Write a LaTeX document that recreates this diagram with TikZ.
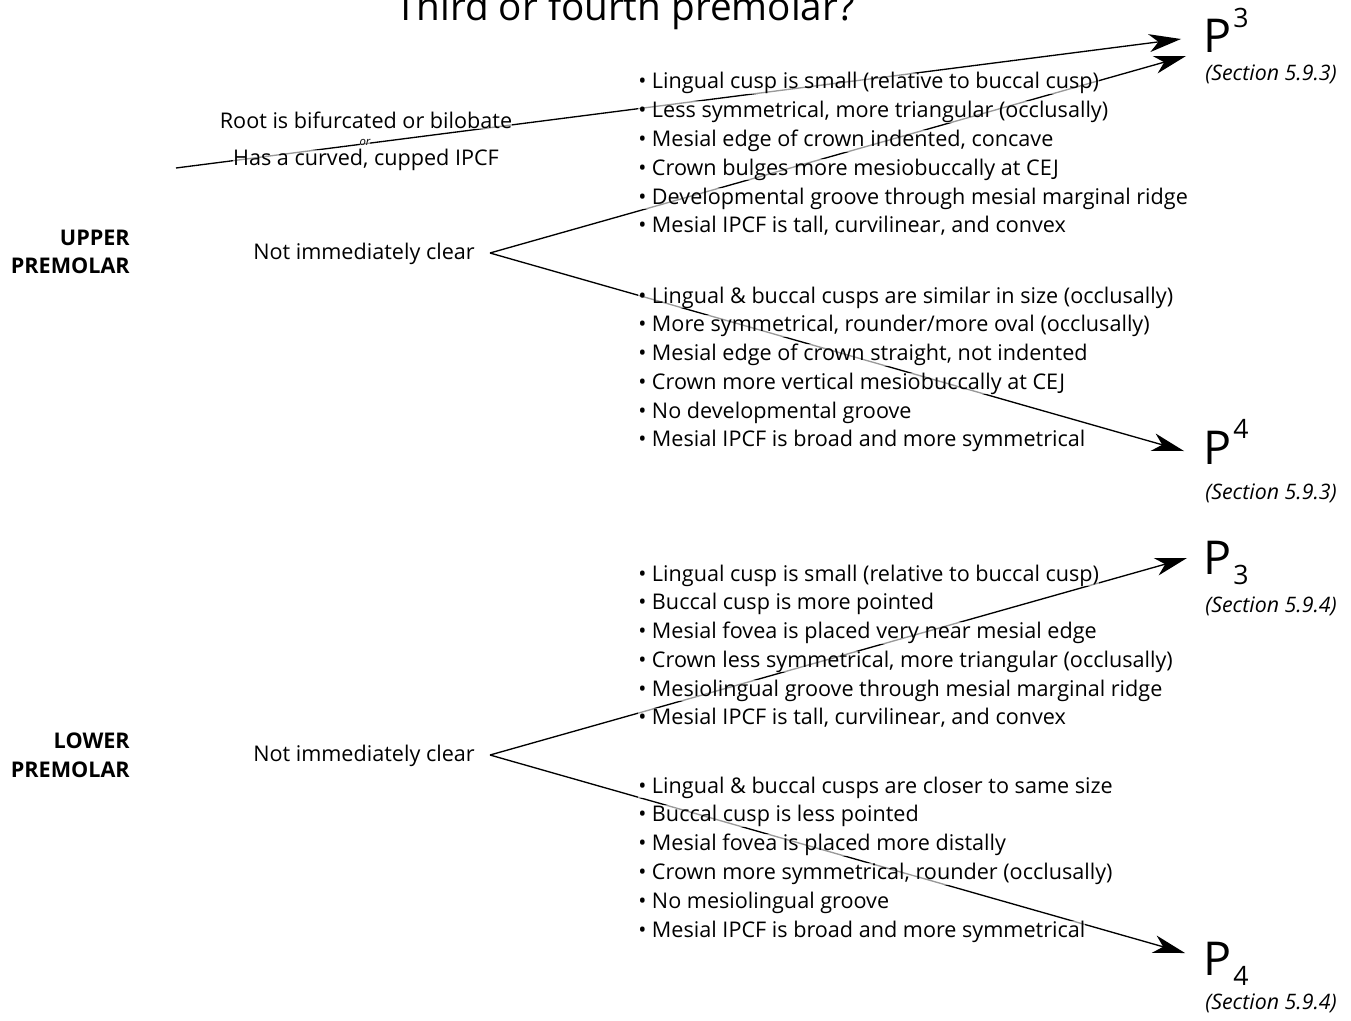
\documentclass[tikz,border=0pt]{standalone}
\usepackage{fontspec}
\setmainfont{Open Sans}
\usetikzlibrary{arrows.meta}

\begin{document}
\begin{tikzpicture}[
    x=0.75pt, y=-0.75pt,
    veil/.style={fill=white, fill opacity=0.6, text opacity=1},
    item/.style={veil, anchor=base west, inner sep=0pt, font=\fontsize{16.2}{18}\selectfont},
    lbl/.style={veil, inner sep=0pt, font=\fontsize{16.2}{18}\selectfont},
    jaw/.style={anchor=base east, inner sep=0pt, font=\fontsize{16.2}{18}\selectfont\bfseries},
    tooth/.style={anchor=base west, inner sep=0pt, font=\fontsize{35}{40}\selectfont},
    sect/.style={anchor=base west, inner sep=0pt, font=\fontsize{16}{18}\selectfont\itshape},
    arrow/.style={line width=1pt, -{Stealth[length=24pt, width=13.5pt, inset=7pt]}}
  ]
    \useasboundingbox (0,0) rectangle (1351,1020);
    % connectors first, text goes over them
    \coordinate (rootstart) at (176,168);
    \coordinate (fork1) at (490,253);
    \coordinate (fork2) at (490,755);
    \coordinate (tip3a) at (1181,39);
    \coordinate (tip3b) at (1186,56);
    \coordinate (tip4) at (1184,451);
    \coordinate (tip3l) at (1187,558);
    \coordinate (tip4l) at (1185,953);
    \draw[arrow] (rootstart) -- (tip3a);
    \draw[arrow] (fork1) -- (tip3b);
    \draw[arrow] (fork1) -- (tip4);
    \draw[arrow] (fork2) -- (tip3l);
    \draw[arrow] (fork2) -- (tip4l);

    \node[anchor=base, inner sep=0pt, font=\fontsize{29}{32}\selectfont] (title) at (625,21) {Third or fourth premolar?};

    \node[jaw] (upper) at (130,245) {UPPER};
    \node[jaw] (upperb) at (130,273) {PREMOLAR};
    \node[jaw] (lower) at (130,748) {LOWER};
    \node[jaw] (lowerb) at (130,777) {PREMOLAR};

    \node[lbl, anchor=base] (root) at (366,129) {Root is bifurcated or bilobate};
    \node[lbl, anchor=base, font=\fontsize{8.5}{9}\selectfont\itshape] (or) at (365,146) {or};
    \node[lbl, anchor=base] (cupped) at (366,166) {Has a curved, cupped IPCF};
    \node[lbl, anchor=base east] (unclear1) at (475,259) {Not immediately clear};
    \node[lbl, anchor=base east] (unclear2) at (475,761) {Not immediately clear};

    \foreach \t [count=\i from 0] in {{Lingual cusp is small (relative to buccal cusp)},
        {Less symmetrical, more triangular (occlusally)},
        {Mesial edge of crown indented, concave},
        {Crown bulges more mesiobuccally at CEJ},
        {Developmental groove through mesial marginal ridge},
        {Mesial IPCF is tall, curvilinear, and convex}}
      \node[item] (ua\i) at (638,89+\i*28.75) {• \t};
    \foreach \t [count=\i from 0] in {{Lingual \& buccal cusps are similar in size (occlusally)},
        {More symmetrical, rounder/more oval (occlusally)},
        {Mesial edge of crown straight, not indented},
        {Crown more vertical mesiobuccally at CEJ},
        {No developmental groove},
        {Mesial IPCF is broad and more symmetrical}}
      \node[item] (ub\i) at (638,303+\i*28.75) {• \t};
    \foreach \t [count=\i from 0] in {{Lingual cusp is small (relative to buccal cusp)},
        {Buccal cusp is more pointed},
        {Mesial fovea is placed very near mesial edge},
        {Crown less symmetrical, more triangular (occlusally)},
        {Mesiolingual groove through mesial marginal ridge},
        {Mesial IPCF is tall, curvilinear, and convex}}
      \node[item] (la\i) at (638,581+\i*28.75) {• \t};
    \foreach \t [count=\i from 0] in {{Lingual \& buccal cusps are closer to same size},
        {Buccal cusp is less pointed},
        {Mesial fovea is placed more distally},
        {Crown more symmetrical, rounder (occlusally)},
        {No mesiolingual groove},
        {Mesial IPCF is broad and more symmetrical}}
      \node[item] (lb\i) at (638,793+\i*28.8) {• \t};

    \node[tooth] (p3) at (1203,53) {P\kern1.5pt\raisebox{19pt}{\fontsize{20}{20}\selectfont 3}};
    \node[sect] (s3) at (1205,81) {(Section 5.9.3)};
    \node[tooth] (p4) at (1203,464) {P\kern1.5pt\raisebox{19pt}{\fontsize{20}{20}\selectfont 4}};
    \node[sect] (s4) at (1205,499) {(Section 5.9.3)};
    \node[tooth] (p3l) at (1203,574) {P\kern1.5pt\raisebox{-8pt}{\fontsize{20}{20}\selectfont 3}};
    \node[sect] (s3l) at (1205,612) {(Section 5.9.4)};
    \node[tooth] (p4l) at (1203,975) {P\kern1.5pt\raisebox{-8pt}{\fontsize{20}{20}\selectfont 4}};
    \node[sect] (s4l) at (1205,1009) {(Section 5.9.4)};
  \end{tikzpicture}
\end{document}
